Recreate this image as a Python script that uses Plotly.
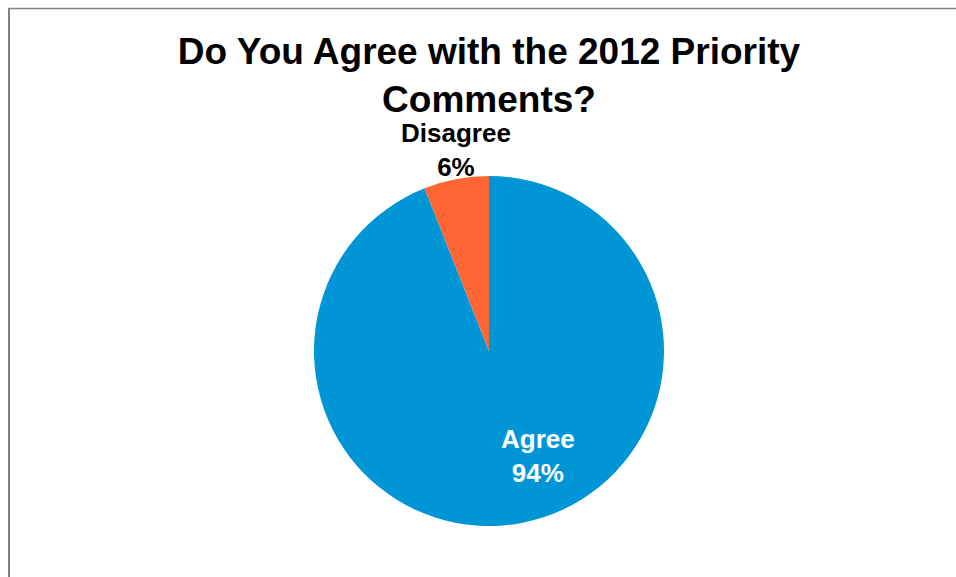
import plotly.graph_objects as go

labels = ["Agree", "Disagree"]
values = [94, 6]
colors = ["#0096D6", "#FF6633"]
label_colors = ["white", "black"]
title_text = "Do You Agree with the 2012 Priority<br>Comments?"

W, H = 956, 577
cx, cy, r = 489, 351, 175

fig = go.Figure(go.Pie(
    labels=labels, values=values, sort=False, direction="clockwise",
    rotation=0, marker=dict(colors=colors, line=dict(width=0)),
    textinfo="none", hoverinfo="label+percent", showlegend=False,
    domain=dict(x=[(cx - r) / W, (cx + r) / W], y=[1 - (cy + r) / H, 1 - (cy - r) / H]),
))

total = sum(values)
label_pos = [(538, 456), (456, 150)]
for lab, v, col, (px, py) in zip(labels, values, label_colors, label_pos):
    fig.add_annotation(
        x=px / W, y=1 - py / H, xref="paper", yref="paper",
        text=f"<b>{lab}<br>{round(100 * v / total)}%</b>", showarrow=False,
        font=dict(family="Liberation Sans, Arial, sans-serif", size=26, color=col),
        xanchor="center", yanchor="middle", align="center",
    )

fig.add_shape(type="line", xref="paper", yref="paper", x0=9 / W, x1=9 / W, y0=0, y1=1 - 8 / H,
              line=dict(color="#808080", width=2))
fig.add_shape(type="line", xref="paper", yref="paper", x0=8 / W, x1=1, y0=1 - 8.5 / H, y1=1 - 8.5 / H,
              line=dict(color="#808080", width=1.5))

fig.update_layout(
    width=W, height=H, margin=dict(l=0, r=0, t=0, b=0),
    paper_bgcolor="white", plot_bgcolor="white",
    title=dict(text=f"<b>{title_text}</b>", x=489 / W, xanchor="center", y=1 - 64 / H, yanchor="middle",
               font=dict(family="Liberation Sans, Arial, sans-serif", size=37, color="black")),
)

fig.write_html("out.html")
